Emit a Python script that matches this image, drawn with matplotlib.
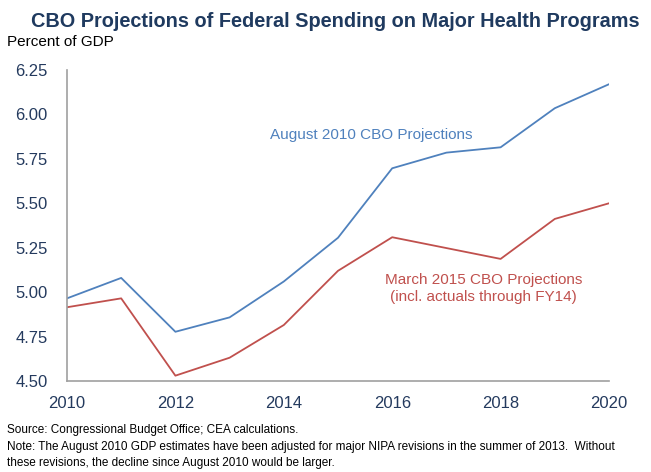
import matplotlib.pyplot as plt

years = [2010, 2011, 2012, 2013, 2014, 2015, 2016, 2017, 2018, 2019, 2020]
aug_2010 = [4.965, 5.08, 4.777, 4.858, 5.06, 5.306, 5.697, 5.785, 5.815, 6.035, 6.17]
mar_2015 = [4.915, 4.965, 4.53, 4.631, 4.815, 5.12, 5.309, 5.248, 5.187, 5.412, 5.50]
y_ticks = [4.50, 4.75, 5.00, 5.25, 5.50, 5.75, 6.00, 6.25]
x_ticks = [2010, 2012, 2014, 2016, 2018, 2020]

plt.rcParams['font.family'] = ['Liberation Sans', 'DejaVu Sans']

navy = '#243A5E'
blue = '#4F81BD'
red = '#C0504D'

fig = plt.figure(figsize=(6.51, 4.72), dpi=100)
ax = fig.add_axes([0.1029, 0.1928, 0.8326, 0.6589])

ax.plot(years, aug_2010, color=blue, linewidth=1.3)
ax.plot(years, mar_2015, color=red, linewidth=1.3)

ax.set_xlim(2010, 2020)
ax.set_ylim(4.5, 6.25)
ax.set_xticks(x_ticks)
ax.set_yticks(y_ticks)
ax.set_yticklabels([f'{v:.2f}' for v in y_ticks])
ax.tick_params(axis='both', length=0, labelsize=12, colors=navy)
ax.tick_params(axis='x', pad=11)
ax.tick_params(axis='y', pad=14)
for s in ['top', 'right']:
    ax.spines[s].set_visible(False)
for s in ['left', 'bottom']:
    ax.spines[s].set_color('#A0A0A0')
    ax.spines[s].set_linewidth(1.2)

ax.text(2015.62, 5.885, 'August 2010 CBO Projections', color=blue,
        fontsize=11, ha='center', va='center')
ax.text(2017.69, 5.02, 'March 2015 CBO Projections\n(incl. actuals through FY14)',
        color=red, fontsize=11, ha='center', va='center', linespacing=1.2)

fig.text(0.515, 0.955, 'CBO Projections of Federal Spending on Major Health Programs',
         ha='center', va='center', fontsize=14.3, fontweight='bold', color='#1F3A5F')
fig.text(0.011, 0.911, 'Percent of GDP', ha='left', va='center', fontsize=11, color='black')

fig.text(0.011, 0.089, 'Source: Congressional Budget Office; CEA calculations.',
         ha='left', va='center', fontsize=8.5)
fig.text(0.011, 0.053, 'Note: The August 2010 GDP estimates have been adjusted for major NIPA revisions in the summer of 2013.  Without',
         ha='left', va='center', fontsize=8.5)
fig.text(0.011, 0.019, 'these revisions, the decline since August 2010 would be larger.',
         ha='left', va='center', fontsize=8.5)

fig.savefig('out.png', dpi=100)
